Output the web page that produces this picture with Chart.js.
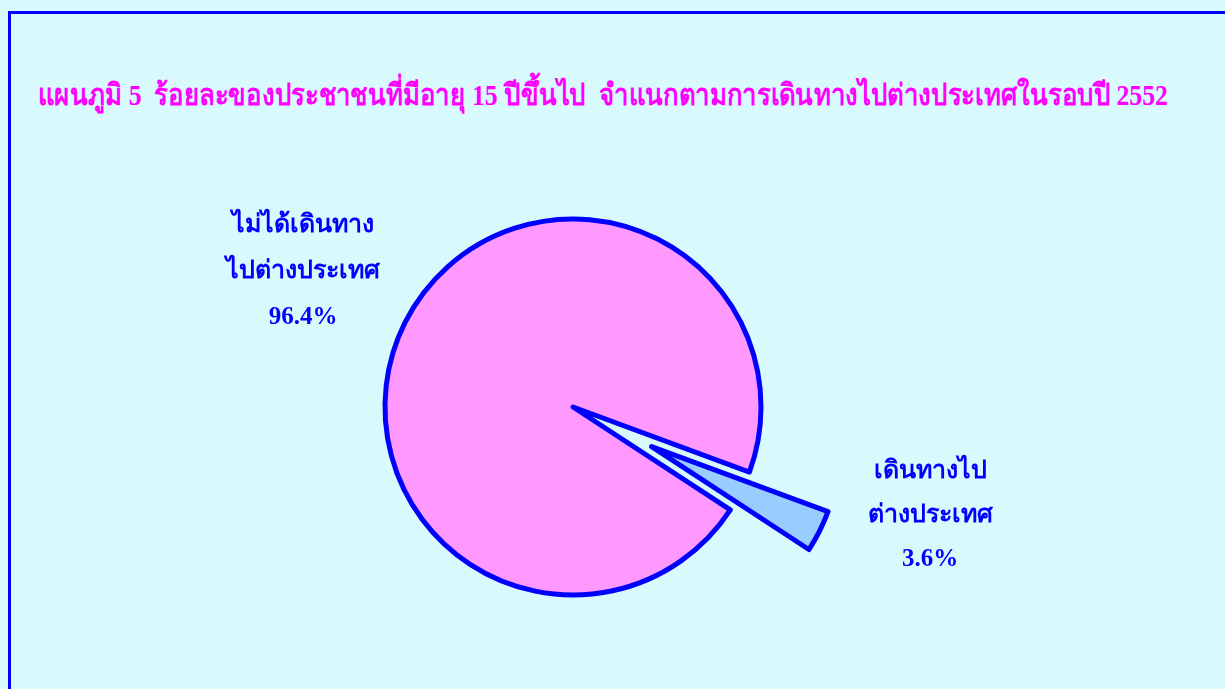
<!DOCTYPE html>
<html lang="th">
<head>
<meta charset="utf-8">
<script src="https://cdn.jsdelivr.net/npm/chart.js@4"></script>
<style>
  html, body { margin: 0; padding: 0; width: 1225px; height: 689px; overflow: hidden; background: #D8FAFC; }
  #frame { position: absolute; left: 8px; top: 11px; width: 1300px; height: 800px;
           border-left: 3px solid #0000FF; border-top: 3px solid #0000FF; }
  #title { position: absolute; left: 38px; top: 71px; font: bold 30px "Liberation Serif", serif;
           color: #FF00FF; white-space: pre; transform-origin: 0 0; }
  canvas { position: absolute; left: 0; top: 0; }
</style>
</head>
<body>
<div id="frame"></div>
<div id="title">แผนภูมิ 5  ร้อยละของประชาชนที่มีอายุ 15 ปีขึ้นไป  จำแนกตามการเดินทางไปต่างประเทศในรอบปี 2552</div>
<canvas id="pie" width="1225" height="689"></canvas>
<script>
// data
const categories = [["ไม่ได้เดินทาง", "ไปต่างประเทศ"], ["เดินทางไป", "ต่างประเทศ"]];
const percents = [96.4, 3.6];

// look
const sliceColors = ["#FF99FF", "#99CCFF"];
const explodePx = [0, 88];
const labelAnchors = [
  { x: 303, y: 232, gap: 46 },
  { x: 930, y: 478, gap: 44 }
];

// squeeze the title to the width it has in the original
const title = document.getElementById("title");
title.style.transform = "scaleX(" + (1130 / title.scrollWidth) + ")";

// pull a slice out from the centre without growing it (Chart.js offset also enlarges the arc)
const explodePlugin = {
  id: "explode",
  afterDatasetUpdate(chart, args) {
    const area = chart.chartArea;
    const cx = (area.left + area.right) / 2;
    const cy = (area.top + area.bottom) / 2;
    args.meta.data.forEach((arc, i) => {
      const d = explodePx[i] || 0;
      const mid = (arc.startAngle + arc.endAngle) / 2;
      arc.x = cx + Math.cos(mid) * d;
      arc.y = cy + Math.sin(mid) * d;
    });
  }
};

// category name + percent written beside each slice
const sliceLabels = {
  id: "sliceLabels",
  afterDatasetsDraw(chart) {
    const ctx = chart.ctx;
    ctx.save();
    ctx.font = "bold 25px 'Liberation Serif', serif";
    ctx.fillStyle = "#0000FF";
    ctx.textAlign = "center";
    ctx.textBaseline = "alphabetic";
    chart.data.labels.forEach((lab, i) => {
      const a = labelAnchors[i];
      const lines = lab.concat([percents[i].toFixed(1) + "%"]);
      lines.forEach((t, k) => ctx.fillText(t, a.x, a.y + k * a.gap));
    });
    ctx.restore();
  }
};

new Chart(document.getElementById("pie"), {
  type: "pie",
  data: {
    labels: categories,
    datasets: [{
      data: percents,
      backgroundColor: sliceColors,
      borderColor: "#0000FF",
      borderWidth: 5,
      borderJoinStyle: "round"
    }]
  },
  options: {
    responsive: false,
    animation: false,
    radius: 188,
    rotation: 123.2,
    layout: { padding: { left: 0, right: 79, top: 125, bottom: 0 } },
    plugins: {
      legend: { display: false },
      tooltip: { enabled: false }
    }
  },
  plugins: [explodePlugin, sliceLabels]
});
</script>
</body>
</html>
